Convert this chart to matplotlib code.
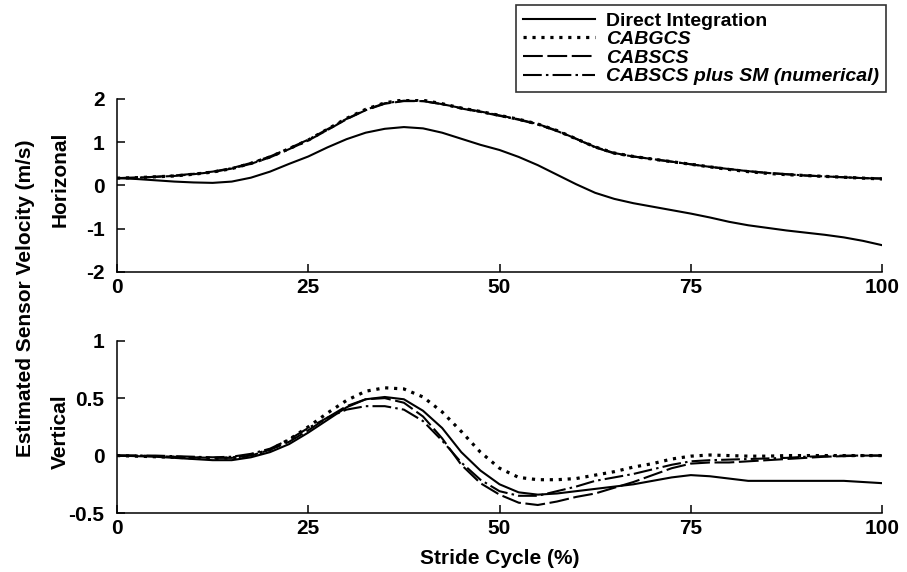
import matplotlib
matplotlib.use("Agg")
import matplotlib.pyplot as plt

plt.rcParams['font.family'] = ['Liberation Sans', 'DejaVu Sans']
plt.rcParams['font.weight'] = 'bold'
plt.rcParams['axes.unicode_minus'] = False

stride = [0, 2.5, 5, 7.5, 10, 12.5, 15, 17.5, 20, 22.5, 25, 27.5, 30, 32.5, 35, 37.5, 40,
          42.5, 45, 47.5, 50, 52.5, 55, 57.5, 60, 62.5, 65, 67.5, 70, 72.5, 75, 77.5, 80,
          82.5, 85, 87.5, 90, 92.5, 95, 97.5, 100]

labels = ["Direct Integration", "CABGCS", "CABSCS", "CABSCS plus SM (numerical)"]

# Horizontal velocity (m/s)
di_h = [0.17, 0.15, 0.12, 0.09, 0.07, 0.06, 0.09, 0.18, 0.32, 0.50, 0.67, 0.88, 1.07, 1.22,
        1.31, 1.35, 1.32, 1.22, 1.08, 0.94, 0.82, 0.66, 0.47, 0.25, 0.03, -0.17, -0.31,
        -0.41, -0.49, -0.57, -0.65, -0.74, -0.84, -0.92, -0.98, -1.04, -1.09, -1.14, -1.20,
        -1.28, -1.38]
cabgcs_h = [0.17, 0.18, 0.20, 0.22, 0.26, 0.31, 0.39, 0.51, 0.66, 0.85, 1.05, 1.30, 1.55,
            1.76, 1.91, 1.98, 1.97, 1.89, 1.79, 1.71, 1.62, 1.53, 1.42, 1.27, 1.08, 0.89,
            0.75, 0.67, 0.61, 0.55, 0.49, 0.43, 0.37, 0.32, 0.28, 0.25, 0.23, 0.21, 0.19,
            0.17, 0.15]
cabscs_h = [0.17, 0.18, 0.20, 0.22, 0.26, 0.31, 0.39, 0.50, 0.65, 0.84, 1.04, 1.28, 1.53,
            1.74, 1.89, 1.95, 1.95, 1.88, 1.79, 1.71, 1.62, 1.53, 1.42, 1.27, 1.08, 0.89,
            0.75, 0.67, 0.61, 0.55, 0.49, 0.43, 0.38, 0.33, 0.29, 0.26, 0.23, 0.21, 0.19,
            0.17, 0.16]
cabscs_sm_h = [0.17, 0.18, 0.20, 0.23, 0.27, 0.32, 0.40, 0.52, 0.67, 0.86, 1.06, 1.30, 1.54,
               1.75, 1.90, 1.96, 1.95, 1.88, 1.78, 1.70, 1.61, 1.52, 1.41, 1.26, 1.08, 0.88,
               0.74, 0.67, 0.61, 0.55, 0.49, 0.43, 0.38, 0.33, 0.29, 0.26, 0.23, 0.21, 0.19,
               0.17, 0.16]

# Vertical velocity (m/s)
di_v = [0.0, -0.005, -0.01, -0.02, -0.03, -0.04, -0.04, -0.015, 0.03, 0.10, 0.20, 0.31,
        0.42, 0.49, 0.51, 0.49, 0.39, 0.24, 0.03, -0.13, -0.25, -0.32, -0.34, -0.33, -0.31,
        -0.29, -0.27, -0.25, -0.22, -0.19, -0.17, -0.18, -0.20, -0.22, -0.22, -0.22, -0.22,
        -0.22, -0.22, -0.23, -0.24]
cabgcs_v = [0.0, -0.005, -0.01, -0.015, -0.02, -0.025, -0.02, 0.0, 0.05, 0.14, 0.25, 0.37,
            0.48, 0.56, 0.59, 0.58, 0.51, 0.38, 0.21, 0.03, -0.11, -0.19, -0.21, -0.21, -0.20,
            -0.17, -0.14, -0.10, -0.07, -0.03, -0.005, 0.005, 0.0, -0.005, -0.005, 0.0, 0.0,
            0.0, 0.0, 0.0, 0.0]
cabscs_v = [0.0, 0.0, -0.005, -0.01, -0.015, -0.02, -0.02, 0.0, 0.05, 0.12, 0.22, 0.33, 0.43,
            0.49, 0.50, 0.46, 0.34, 0.15, -0.08, -0.24, -0.34, -0.41, -0.43, -0.40, -0.36,
            -0.33, -0.28, -0.23, -0.17, -0.11, -0.07, -0.06, -0.06, -0.05, -0.04, -0.03,
            -0.02, -0.01, -0.005, 0.0, 0.0]
cabscs_sm_v = [0.0, 0.0, 0.0, -0.005, -0.01, -0.015, -0.01, 0.015, 0.06, 0.14, 0.24, 0.33,
               0.40, 0.43, 0.43, 0.40, 0.30, 0.13, -0.06, -0.21, -0.31, -0.35, -0.35, -0.31,
               -0.27, -0.22, -0.19, -0.16, -0.12, -0.08, -0.05, -0.04, -0.035, -0.03, -0.025,
               -0.02, -0.01, -0.005, 0.0, 0.0, 0.0]

x_ticks = [0, 25, 50, 75, 100]
h_ticks = [-2, -1, 0, 1, 2]
v_ticks = [-0.5, 0, 0.5, 1]
v_ticklabels = ["-0.5", "0", "0.5", "1"]

styles = [
    dict(linestyle='-', lw=1.5),
    dict(linestyle=(0, (1.0, 1.8)), lw=2.3, dash_capstyle='butt'),
    dict(linestyle=(0, (9.5, 2.2)), lw=1.5),
    dict(linestyle=(0, (9.0, 2.0, 1.2, 2.0)), lw=1.5),
]

fig = plt.figure(figsize=(9.07, 5.72), dpi=100)
ax1 = fig.add_axes([0.129, 0.5245, 0.8435, 0.3025])
ax2 = fig.add_axes([0.129, 0.1031, 0.8435, 0.3013])

handles = []
for ys, st, lab in zip([di_h, cabgcs_h, cabscs_h, cabscs_sm_h], styles, labels):
    h, = ax1.plot(stride, ys, color='black', label=lab, **st)
    handles.append(h)
for ys, st in zip([di_v, cabgcs_v, cabscs_v, cabscs_sm_v], styles):
    ax2.plot(stride, ys, color='black', **st)

for ax in (ax1, ax2):
    ax.set_xlim(0, 100)
    ax.set_xticks(x_ticks)
    ax.spines['top'].set_visible(False)
    ax.spines['right'].set_visible(False)
    ax.spines['left'].set_linewidth(1.1)
    ax.spines['bottom'].set_linewidth(1.1)
    ax.tick_params(direction='in', length=6, width=1.1, labelsize=15)
    ax.tick_params(axis='x', pad=4)
    ax.tick_params(axis='y', pad=9)

ax1.set_ylim(-2, 2)
ax1.set_yticks(h_ticks)
ax1.set_yticklabels([str(v) for v in h_ticks], fontweight='bold')
ax2.set_ylim(-0.5, 1)
ax2.set_yticks(v_ticks)
ax2.set_yticklabels(v_ticklabels, fontweight='bold')
for ax in (ax1, ax2):
    ax.set_xticklabels([str(v) for v in x_ticks], fontweight='bold')

ax2.set_xlabel("Stride Cycle (%)", fontsize=15, fontweight='bold', labelpad=8)

fig.text(0.0276, 0.479, "Estimated Sensor Velocity (m/s)", rotation=90, fontsize=15,
         fontweight='bold', ha='center', va='center')
fig.text(0.066, 0.687, "Horizonal", rotation=90, fontsize=15, fontweight='bold',
         ha='center', va='center')
fig.text(0.066, 0.245, "Vertical", rotation=90, fontsize=15, fontweight='bold',
         ha='center', va='center')

leg = fig.legend(handles=handles, labels=labels, loc='upper right',
                 bbox_to_anchor=(0.977, 0.991), bbox_transform=fig.transFigure,
                 borderaxespad=0, fancybox=False, frameon=True, edgecolor='black',
                 prop=dict(family=['Liberation Sans', 'DejaVu Sans'], weight='bold', size=14),
                 handlelength=3.7, handletextpad=0.6, labelspacing=0.05, borderpad=0.35)
leg.get_frame().set_linewidth(1.2)
for t in leg.get_texts()[1:]:
    t.set_fontstyle('italic')

fig.savefig("out.png", dpi=100)
